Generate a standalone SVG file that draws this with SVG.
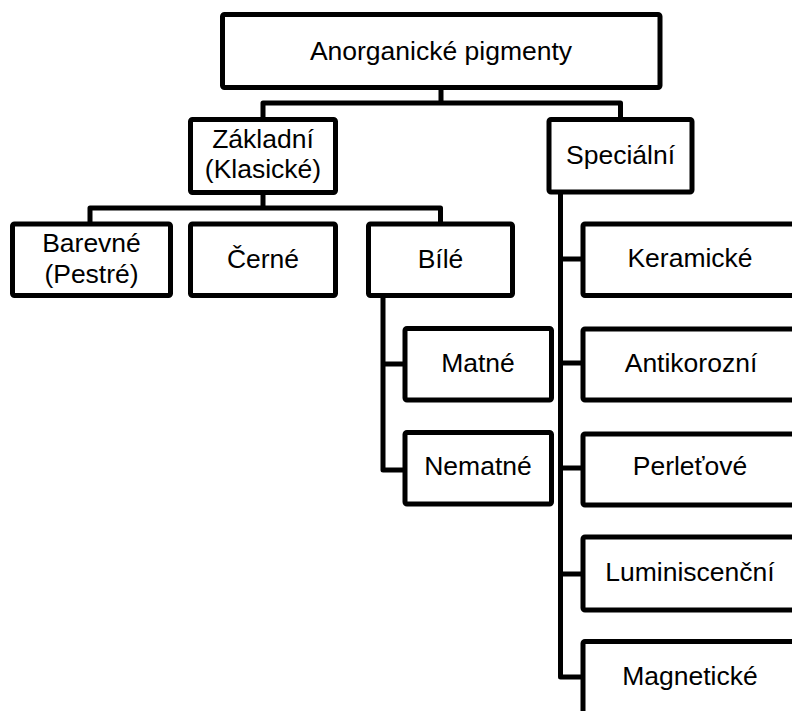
<svg xmlns="http://www.w3.org/2000/svg" width="792" height="711" viewBox="0 0 792 711">
<style>
  .box { fill: #ffffff; stroke: #000000; stroke-width: 5; }
  .conn { fill: none; stroke: #000000; stroke-width: 5; stroke-linejoin: round; stroke-linecap: butt; }
  .lbl { font-family: "Liberation Sans", Arial, sans-serif; font-size: 26.5px; fill: #000000; text-anchor: middle; }
</style>
<rect width="792" height="711" fill="#ffffff"/>
<g id="connectors">
  <path class="conn" d="M441,87.5 V103 M263,119.5 V103 H620.5 V119.5"/>
  <path class="conn" d="M263,192.5 V208 M90,224 V208 H440.5 V224"/>
  <path class="conn" d="M383,294 V470 H405 M383,364 H405"/>
  <path class="conn" d="M560.5,192 V677 H583 M560.5,259 H583 M560.5,363 H583 M560.5,468 H583 M560.5,574 H583"/>
</g>
<g id="n-anorganicke">
  <rect class="box" x="222.5" y="14.5" width="437.5" height="73" rx="2"/>
  <text class="lbl" x="441" y="60">Anorganické pigmenty</text>
</g>
<g id="n-zakladni">
  <rect class="box" x="190.5" y="119.5" width="145" height="73" rx="2"/>
  <text class="lbl" x="263" y="148">Základní</text>
  <text class="lbl" x="263" y="178">(Klasické)</text>
</g>
<g id="n-specialni">
  <rect class="box" x="549" y="119.5" width="143" height="72.5" rx="2"/>
  <text class="lbl" x="620.5" y="164">Speciální</text>
</g>
<g id="n-barevne">
  <rect class="box" x="12.5" y="224" width="158" height="71.5" rx="2"/>
  <text class="lbl" x="91.5" y="252">Barevné</text>
  <text class="lbl" x="91.5" y="283">(Pestré)</text>
</g>
<g id="n-cerne">
  <rect class="box" x="190.5" y="224" width="145" height="71.5" rx="2"/>
  <text class="lbl" x="263" y="268">Černé</text>
</g>
<g id="n-bile">
  <rect class="box" x="368.5" y="224" width="144" height="71.5" rx="2"/>
  <text class="lbl" x="440.5" y="268">Bílé</text>
</g>
<g id="n-matne">
  <rect class="box" x="405" y="328.5" width="146.5" height="71.5" rx="2"/>
  <text class="lbl" x="478" y="372">Matné</text>
</g>
<g id="n-nematne">
  <rect class="box" x="405" y="432.5" width="146.5" height="71.5" rx="2"/>
  <text class="lbl" x="478" y="475">Nematné</text>
</g>
<g id="n-keramicke">
  <rect class="box" x="583" y="224" width="214" height="71.5" rx="2"/>
  <text class="lbl" x="690" y="267">Keramické</text>
</g>
<g id="n-antikorozni">
  <rect class="box" x="583" y="329" width="214" height="71" rx="2"/>
  <text class="lbl" x="691" y="372">Antikorozní</text>
</g>
<g id="n-perletove">
  <rect class="box" x="583" y="434" width="214" height="71" rx="2"/>
  <text class="lbl" x="690" y="475">Perleťové</text>
</g>
<g id="n-luminiscencni">
  <rect class="box" x="583" y="537" width="214" height="73" rx="2"/>
  <text class="lbl" x="690" y="581">Luminiscenční</text>
</g>
<g id="n-magneticke">
  <rect class="box" x="583" y="641.5" width="214" height="73" rx="2"/>
  <text class="lbl" x="690" y="685">Magnetické</text>
</g>
</svg>
